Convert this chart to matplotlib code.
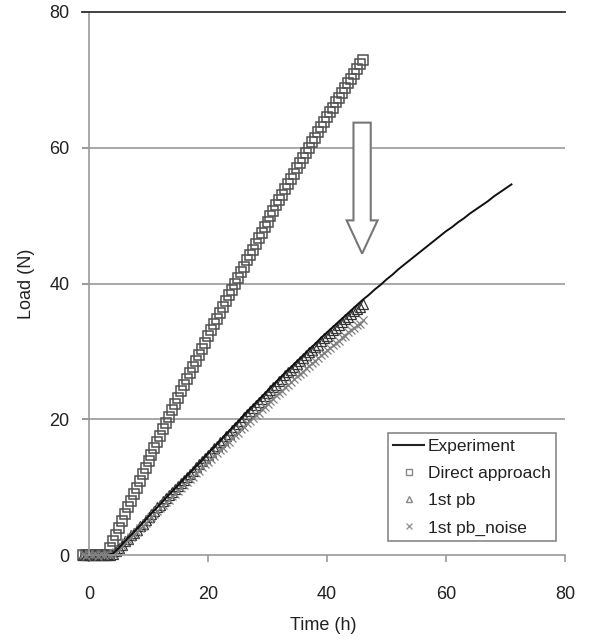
import matplotlib
matplotlib.use("Agg")
import matplotlib.pyplot as plt
import matplotlib.patches as mpatches
from matplotlib.lines import Line2D
import numpy as np

plt.rcParams['font.family'] = ['Liberation Sans', 'DejaVu Sans']

# experiment, sampled every hour
exp_time = np.arange(-1, 72)
exp_load = [0, 0, 0, 0, 0,
            0.2, 1.0, 2.0, 2.9, 3.8, 4.7, 5.7, 6.6, 7.5, 8.5,
            9.4, 10.3, 11.3, 12.2, 13.1, 14.0, 15.0, 15.9, 16.8, 17.8,
            18.7, 19.6, 20.6, 21.5, 22.4, 23.3, 24.2, 25.1, 26.0, 26.9,
            27.7, 28.6, 29.4, 30.3, 31.1, 32.0, 32.8, 33.6, 34.4, 35.2,
            36.0, 36.8, 37.6, 38.3, 39.1, 39.8, 40.6, 41.3, 42.1, 42.8,
            43.5, 44.2, 44.9, 45.6, 46.3, 47.0, 47.7, 48.3, 49.0, 49.6,
            50.3, 50.9, 51.5, 52.1, 52.8, 53.4, 54.0, 54.6]

# simulations, every half hour
sim_time = np.arange(-1, 46.25, 0.5)
direct_load = [0, 0, 0, 0, 0, 0, 0, 0,
               0, 1.0, 2.0, 3.0, 4.0, 5.0, 6.0, 7.0, 8.0, 9.0,
               9.9, 10.9, 11.9, 12.8, 13.8, 14.7, 15.7, 16.6, 17.6, 18.5,
               19.5, 20.4, 21.3, 22.3, 23.2, 24.1, 25.0, 25.9, 26.8, 27.7,
               28.6, 29.5, 30.4, 31.3, 32.2, 33.1, 34.0, 34.8, 35.7, 36.6,
               37.4, 38.3, 39.1, 40.0, 40.8, 41.7, 42.5, 43.4, 44.2, 45.0,
               45.8, 46.7, 47.5, 48.3, 49.1, 49.9, 50.7, 51.5, 52.3, 53.1,
               53.9, 54.7, 55.4, 56.2, 57.0, 57.8, 58.5, 59.3, 60.0, 60.8,
               61.5, 62.3, 63.0, 63.8, 64.5, 65.2, 65.9, 66.7, 67.4, 68.1,
               68.8, 69.5, 70.2, 70.9, 71.6, 72.3, 73.0]
pb_load = [0, 0, 0, 0, 0, 0, 0, 0, 0, 0,
           0.2, 0.6, 1.0, 1.5, 2.0, 2.4, 2.9, 3.3, 3.7, 4.2,
           4.6, 5.1, 5.6, 6.0, 6.5, 7.0, 7.4, 7.9, 8.4, 8.8,
           9.3, 9.7, 10.2, 10.6, 11.1, 11.5, 12.0, 12.4, 12.9, 13.4,
           13.8, 14.3, 14.8, 15.2, 15.7, 16.1, 16.6, 17.0, 17.5, 17.9,
           18.4, 18.9, 19.3, 19.8, 20.3, 20.7, 21.2, 21.6, 22.1, 22.5,
           23.0, 23.4, 23.8, 24.3, 24.7, 25.1, 25.6, 26.0, 26.5, 26.9,
           27.3, 27.7, 28.2, 28.6, 29.0, 29.5, 29.9, 30.2, 30.6, 31.0,
           31.5, 31.9, 32.3, 32.7, 33.1, 33.5, 33.9, 34.3, 34.7, 35.1,
           35.5, 35.9, 36.2, 36.6, 37.0]
noise_load = [0.1, -0.1, 0.2, 0, 0.1, -0.1, 0.2, 0, 0.1, 0.0,
              0.1, 0.4, 0.9, 1.3, 1.9, 2.2, 2.6, 3.1, 3.4, 4.0,
              4.3, 4.7, 5.3, 5.6, 6.1, 6.5, 6.9, 7.4, 7.8, 8.1,
              8.7, 9.0, 9.5, 9.9, 10.3, 10.8, 11.2, 11.5, 12.1, 12.4,
              12.9, 13.4, 13.7, 14.2, 14.6, 15.0, 15.5, 15.8, 16.4, 16.7,
              17.2, 17.7, 18.0, 18.5, 18.9, 19.4, 19.7, 20.2, 20.6, 20.9,
              21.5, 21.8, 22.2, 22.7, 23.0, 23.5, 23.9, 24.2, 24.8, 25.0,
              25.5, 25.9, 26.3, 26.7, 27.0, 27.6, 27.8, 28.3, 28.6, 29.0,
              29.5, 29.7, 30.2, 30.5, 30.9, 31.3, 31.6, 32.1, 32.3, 32.8,
              33.1, 33.4, 33.9, 34.1, 34.6]

fig = plt.figure(figsize=(5.91, 6.43), dpi=100)
ax = fig.add_axes([82 / 591, 88 / 643, 483 / 591, 543 / 643])

ax.plot(sim_time, direct_load, ls='none', marker='s', ms=7, mfc='none',
        mec='#505050', mew=1.1, clip_on=False)
ax.plot(sim_time, pb_load, ls='none', marker='^', ms=6.5, mfc='none',
        mec='#333333', mew=0.9, clip_on=False)
ax.plot(sim_time, noise_load, ls='none', marker='x', ms=6, mec='#808080',
        mew=0.9, clip_on=False)
ax.plot(exp_time, exp_load, color='#111111', lw=1.4, clip_on=False)

# hollow arrow
arrow = mpatches.FancyArrow(45.9, 63.7, 0, -19.3, width=2.9, head_width=5.2,
                            head_length=4.9, length_includes_head=True,
                            facecolor='white', edgecolor='#777777', lw=1.5)
ax.add_patch(arrow)

ax.set_xlim(-1.18, 80)
ax.set_ylim(0, 80)
ax.set_xticks([0, 20, 40, 60, 80])
ax.set_yticks([0, 20, 40, 60, 80])

for y in [20, 40, 60]:
    ax.axhline(y, color='#999999', lw=1.2, zorder=0)

ax.spines['right'].set_visible(False)
ax.spines['top'].set_color('#333333')
ax.spines['top'].set_linewidth(1.3)
ax.spines['left'].set_position(('data', 0))
ax.spines['left'].set_color('#999999')
ax.spines['left'].set_linewidth(1.2)
ax.spines['bottom'].set_color('#999999')
ax.spines['bottom'].set_linewidth(1.2)

ax.tick_params(axis='y', direction='out', length=5, width=1.2, color='#999999',
               pad=9, labelsize=13, labelcolor='#222222')
ax.tick_params(axis='x', direction='out', length=5, width=1.2, color='#999999',
               pad=17, labelsize=13, labelcolor='#222222')

ax.set_xlabel('Time (h)', fontsize=13, color='#222222')
ax.set_ylabel('Load (N)', fontsize=13, color='#222222')
ax.xaxis.set_label_coords(0.5, -0.114)
ax.yaxis.set_label_coords(-0.097, 0.5)

handles = [
    Line2D([], [], color='#222222', lw=1.5),
    Line2D([], [], ls='none', marker='s', ms=4.5, mfc='none', mec='#888888', mew=1),
    Line2D([], [], ls='none', marker='^', ms=4.5, mfc='none', mec='#888888', mew=1),
    Line2D([], [], ls='none', marker='x', ms=4.5, mec='#999999', mew=1),
]
labels = ['Experiment', 'Direct approach', '1st pb', '1st pb_noise']
leg = ax.legend(handles, labels, loc='lower right', bbox_to_anchor=(0.981, 0.026),
                fontsize=12.5, frameon=True, fancybox=False, edgecolor='#888888',
                framealpha=1, handlelength=1.8, handletextpad=0.2,
                labelspacing=0.7, borderpad=0.3, borderaxespad=0)
leg.get_frame().set_linewidth(1.2)
for t in leg.get_texts():
    t.set_color('#222222')

fig.savefig('out.png', dpi=100)
